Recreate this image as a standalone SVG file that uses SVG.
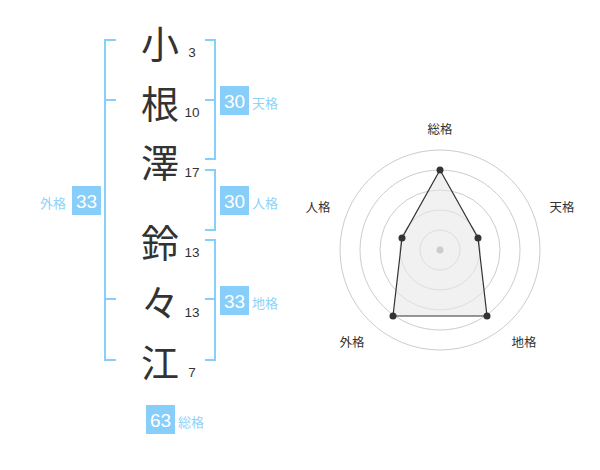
<svg xmlns="http://www.w3.org/2000/svg" width="600" height="470" viewBox="0 0 600 470">
<style>
.ch{font-family:"Noto Sans CJK JP","Noto Sans CJK SC",sans-serif;font-size:38px;fill:#333;text-anchor:middle}
.num{font-family:"Liberation Sans",Arial,sans-serif;font-size:13.5px;fill:#333;text-anchor:middle}
.br{fill:none;stroke:#87cefa;stroke-width:2}
.box{fill:#87cefa}
.bn{font-family:"Liberation Sans",Arial,sans-serif;font-size:19px;fill:#fff;text-anchor:middle}
.bl{font-family:"Noto Sans CJK JP","Noto Sans CJK SC",sans-serif;font-size:13px;fill:#8fd2fa}
.ring{fill:none;stroke:#ccc;stroke-width:1}
.rl{font-family:"Noto Sans CJK JP","Noto Sans CJK SC",sans-serif;font-size:12.5px;fill:#333;text-anchor:middle}
</style>
<rect width="600" height="470" fill="#fff"/>
<g id="chars">
<g id="c1"><text class="ch" x="160" y="58">小</text><text class="num" x="192" y="57">3</text></g>
<g id="c2"><text class="ch" x="160" y="118">根</text><text class="num" x="192" y="117">10</text></g>
<g id="c3"><text class="ch" x="160" y="177">澤</text><text class="num" x="192" y="177">17</text></g>
<g id="c4"><text class="ch" x="160" y="257">鈴</text><text class="num" x="192" y="257">13</text></g>
<g id="c5"><text class="ch" x="160" y="317">々</text><text class="num" x="192" y="317">13</text></g>
<g id="c6"><text class="ch" x="160" y="377">江</text><text class="num" x="192" y="377">7</text></g>
</g>
<g id="connectors">
<path class="br" d="M116,40H105V360H116M105,100H116M105,299H116"/>
<path class="br" d="M205,40H215V159H205M205,100H215"/>
<path class="br" d="M205,170H215V230H205"/>
<path class="br" d="M205,240H215V360H205M205,299H215"/>
</g>
<g id="tenkaku"><rect class="box" x="220" y="86" width="29" height="29"/><text class="bn" x="234.5" y="108">30</text><text class="bl" x="252" y="108">天格</text></g>
<g id="jinkaku"><rect class="box" x="220" y="186" width="29" height="29"/><text class="bn" x="234.5" y="208">30</text><text class="bl" x="252" y="208">人格</text></g>
<g id="chikaku"><rect class="box" x="220" y="286" width="29" height="29"/><text class="bn" x="234.5" y="308">33</text><text class="bl" x="252" y="308">地格</text></g>
<g id="gaikaku"><rect class="box" x="72" y="186" width="29" height="29"/><text class="bn" x="86.5" y="208">33</text><text class="bl" x="40" y="208">外格</text></g>
<g id="soukaku"><rect class="box" x="146" y="405" width="29" height="29"/><text class="bn" x="160.5" y="427">63</text><text class="bl" x="178" y="427">総格</text></g>
<g id="radar">
<circle class="ring" cx="440" cy="250" r="20"/>
<circle class="ring" cx="440" cy="250" r="40"/>
<circle class="ring" cx="440" cy="250" r="60"/>
<circle class="ring" cx="440" cy="250" r="80"/>
<circle class="ring" cx="440" cy="250" r="100"/>
<polygon points="440,170 478,238 487,316 393,316 402,238" fill="#e8e8e8" fill-opacity="0.6" stroke="#333" stroke-width="1.2"/>
<circle cx="440" cy="250" r="3.5" fill="#ccc"/>
<g fill="#333"><circle cx="440" cy="170" r="3.5"/><circle cx="478" cy="238" r="3.5"/><circle cx="487" cy="316" r="3.5"/><circle cx="393" cy="316" r="3.5"/><circle cx="402" cy="238" r="3.5"/></g>
<text class="rl" x="440" y="134">総格</text>
<text class="rl" x="562" y="212">天格</text>
<text class="rl" x="318" y="212">人格</text>
<text class="rl" x="352" y="347">外格</text>
<text class="rl" x="524" y="347">地格</text>
</g>
</svg>
